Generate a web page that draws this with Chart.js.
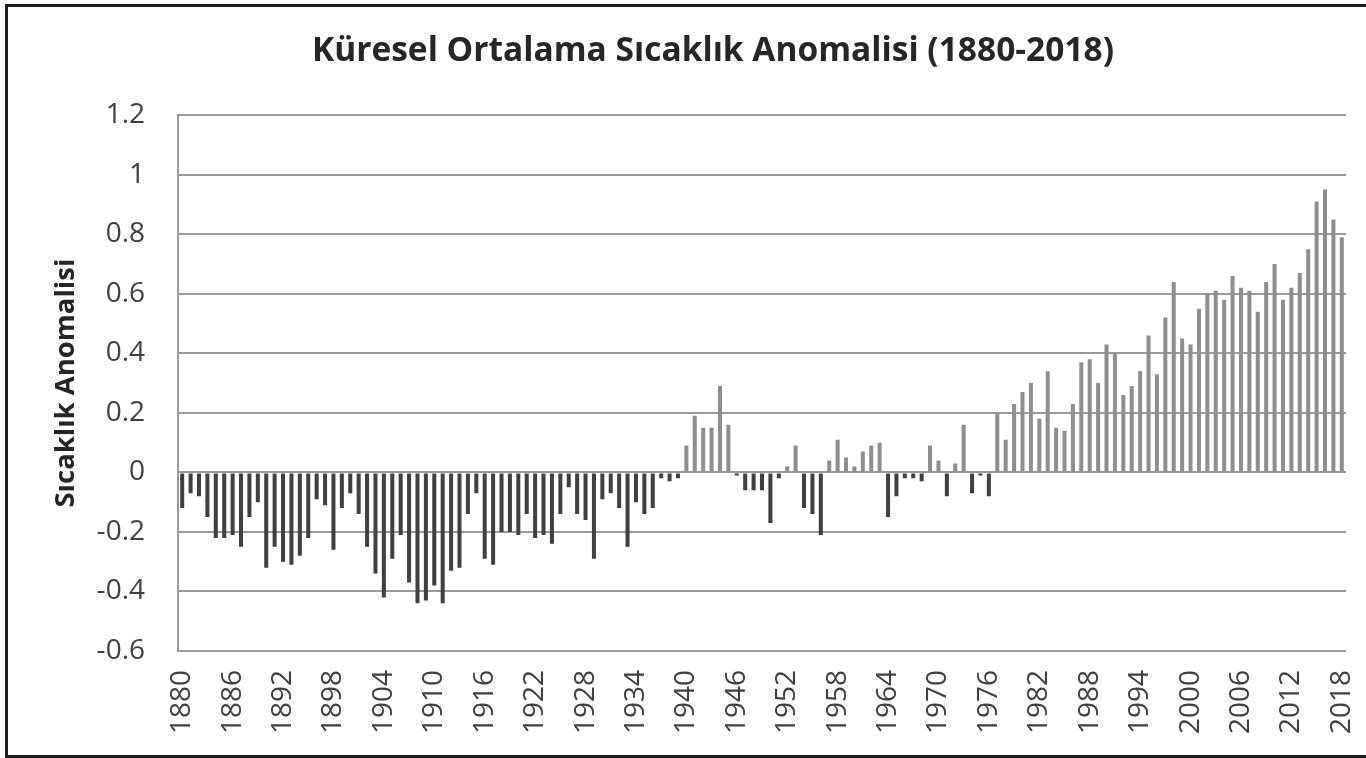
<!DOCTYPE html>
<html lang="tr">
<head>
    <meta charset="UTF-8">
    <title>Küresel Ortalama Sıcaklık Anomalisi (1880-2018)</title>
    <script src="https://cdn.jsdelivr.net/npm/chart.js@4.4.1/dist/chart.umd.min.js"></script>
    <style>
        body {
            margin: 0;
            background: #ffffff;
        }
        #wrap {
            position: relative;
            width: 1366px;
            height: 758px;
            overflow: hidden;
        }
        #frame {
            position: absolute;
            left: 5px;
            top: 4px;
            width: 1400px;
            height: 748px;
            border-top: 3px solid #1e1e1e;
            border-left: 3px solid #1e1e1e;
            border-bottom: 3px solid #1e1e1e;
            pointer-events: none;
        }
    </style>
</head>
<body>
    <div id="wrap">
        <canvas id="anomalyChart" width="1366" height="758"></canvas>
        <div id="frame"></div>
    </div>
    <script>
        const firstYear = 1880;
        const lastYear = 2018;
        const labelStep = 6;

        // yearly anomaly values, 1880 ... 2018
        const anomalies = [
            -0.12, -0.07, -0.08, -0.15, -0.22, -0.22, -0.21, -0.25, -0.15, -0.10,
            -0.32, -0.25, -0.30, -0.31, -0.28, -0.22, -0.09, -0.11, -0.26, -0.12,
            -0.07, -0.14, -0.25, -0.34, -0.42, -0.29, -0.21, -0.37, -0.44, -0.43,
            -0.38, -0.44, -0.33, -0.32, -0.14, -0.07, -0.29, -0.31, -0.20, -0.20,
            -0.21, -0.14, -0.22, -0.21, -0.24, -0.14, -0.05, -0.14, -0.16, -0.29,
            -0.09, -0.07, -0.12, -0.25, -0.10, -0.14, -0.12, -0.02, -0.03, -0.02,
            0.09, 0.19, 0.15, 0.15, 0.29, 0.16, -0.01, -0.06, -0.06, -0.06,
            -0.17, -0.02, 0.02, 0.09, -0.12, -0.14, -0.21, 0.04, 0.11, 0.05,
            0.02, 0.07, 0.09, 0.10, -0.15, -0.08, -0.02, -0.02, -0.03, 0.09,
            0.04, -0.08, 0.03, 0.16, -0.07, -0.01, -0.08, 0.20, 0.11, 0.23,
            0.27, 0.30, 0.18, 0.34, 0.15, 0.14, 0.23, 0.37, 0.38, 0.30,
            0.43, 0.40, 0.26, 0.29, 0.34, 0.46, 0.33, 0.52, 0.64, 0.45,
            0.43, 0.55, 0.60, 0.61, 0.58, 0.66, 0.62, 0.61, 0.54, 0.64,
            0.70, 0.58, 0.62, 0.67, 0.75, 0.91, 0.95, 0.85, 0.79
        ];

        const years = [];
        for (let y = firstYear; y <= lastYear; y++) {
            years.push(String(y));
        }

        const textColor = '#404040';
        const fontFamily = '"Open Sans", "DejaVu Sans", sans-serif';

        const ctx = document.getElementById('anomalyChart').getContext('2d');
        new Chart(ctx, {
            type: 'bar',
            data: {
                labels: years,
                datasets: [{
                    label: 'Sıcaklık Anomalisi',
                    data: anomalies,
                    backgroundColor: anomalies.map(v => v < 0 ? '#404040' : '#8e8e8e'),
                    borderWidth: 0,
                    barPercentage: 0.48,
                    categoryPercentage: 1.0
                }]
            },
            options: {
                responsive: false,
                animation: false,
                layout: {
                    // left padding keeps the title centred where the original has it
                    padding: { top: 0, left: 80, right: 20, bottom: 0 }
                },
                plugins: {
                    legend: { display: false },
                    tooltip: { enabled: false },
                    title: {
                        display: true,
                        text: 'Küresel Ortalama Sıcaklık Anomalisi (1880-2018)',
                        color: '#262626',
                        font: { family: fontFamily, size: 33.5, weight: 'bold', lineHeight: 1.2 },
                        padding: { top: 31, bottom: 44 }
                    }
                },
                scales: {
                    x: {
                        grid: { display: false, drawTicks: false },
                        border: { display: false },
                        ticks: {
                            autoSkip: false,
                            minRotation: 90,
                            maxRotation: 90,
                            padding: 19,
                            color: textColor,
                            font: { family: fontFamily, size: 28 },
                            callback: function (value, index) {
                                return index % labelStep === 0 ? years[index] : '';
                            }
                        },
                        afterFit: function (scale) {
                            scale.height = 107;
                            scale.paddingLeft = 0;
                            scale.paddingRight = 0;
                        }
                    },
                    y: {
                        min: -0.6,
                        max: 1.2,
                        grid: {
                            color: '#9a9a9a',
                            lineWidth: 2,
                            drawTicks: false
                        },
                        border: { display: true, color: '#9a9a9a', width: 2 },
                        ticks: {
                            stepSize: 0.2,
                            padding: 33,
                            color: textColor,
                            font: { family: fontFamily, size: 28 },
                            callback: v => String(+v.toFixed(1))
                        },
                        title: {
                            display: true,
                            text: 'Sıcaklık Anomalisi',
                            color: '#262626',
                            font: { family: fontFamily, size: 27.5, weight: 'bold', lineHeight: 1.2 },
                            padding: { top: -30, bottom: 0 }
                        },
                        afterFit: function (scale) {
                            scale.width = 98;
                        }
                    }
                }
            }
        });
    </script>
</body>
</html>
